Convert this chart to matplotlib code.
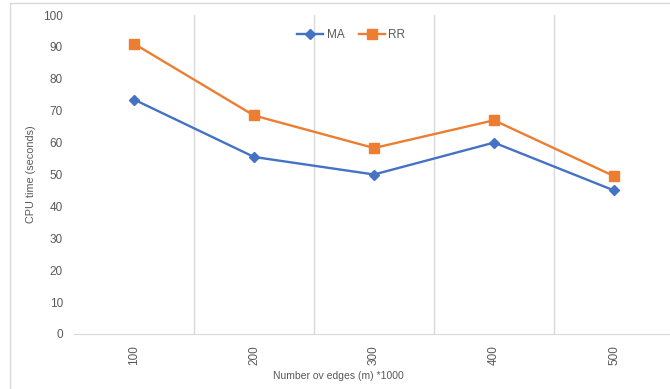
import matplotlib.pyplot as plt
from matplotlib.patches import Rectangle

# data
edges = ["100", "200", "300", "400", "500"]
ma = [73.5, 55.5, 50, 60, 45]
rr = [91, 68.5, 58.3, 67, 49.5]

TXT = "#595959"
GRID = "#d9d9d9"

plt.rcParams['font.family'] = ['Liberation Sans', 'DejaVu Sans']

fig = plt.figure(figsize=(6.7, 3.89), dpi=100)
W, H = 670, 389

# outer chart border
fig.patches.append(Rectangle((10 / W, -0.1), 1.0, 1 - 3 / H + 0.1,
                             transform=fig.transFigure, fill=False,
                             edgecolor=GRID, linewidth=1.0))

ax = fig.add_axes([74 / W, 1 - 334 / H, 600 / W, 319 / H])
x = range(len(edges))
ax.plot(x, ma, color="#4472c4", linewidth=1.7, marker="D", markersize=5, label="MA")
ax.plot(x, rr, color="#ed7d31", linewidth=1.7, marker="s", markersize=6.5, label="RR")

ax.set_xlim(-0.5, len(edges) - 0.5)
ax.set_ylim(0, 100)
ax.set_yticks(range(0, 101, 10))
ax.set_xticks(list(x))
ax.set_xticklabels(edges, rotation=90)

# vertical gridlines between categories
for b in [0.5, 1.5, 2.5, 3.5]:
    ax.axvline(b, color=GRID, linewidth=1.0, zorder=0)

for s in ["top", "right", "left"]:
    ax.spines[s].set_visible(False)
ax.spines["bottom"].set_color(GRID)
ax.tick_params(length=0, colors=TXT, labelsize=8.5)
ax.tick_params(axis="x", pad=8)
ax.tick_params(axis="y", pad=8)

ax.set_xlabel("Number ov edges (m) *1000", color=TXT, fontsize=7.5)
ax.xaxis.set_label_coords((338 - 74) / 600, -0.115)
ax.set_ylabel("CPU time (seconds)", color=TXT, fontsize=7.8)
ax.yaxis.set_label_coords(-0.063, 0.5)

leg = ax.legend(loc="upper center", bbox_to_anchor=(0.462, 0.99), ncol=2, frameon=False,
                fontsize=8.5, handlelength=2.2, columnspacing=1.2, handletextpad=0.3)
for t in leg.get_texts():
    t.set_color(TXT)

fig.savefig("out.png", dpi=100)
